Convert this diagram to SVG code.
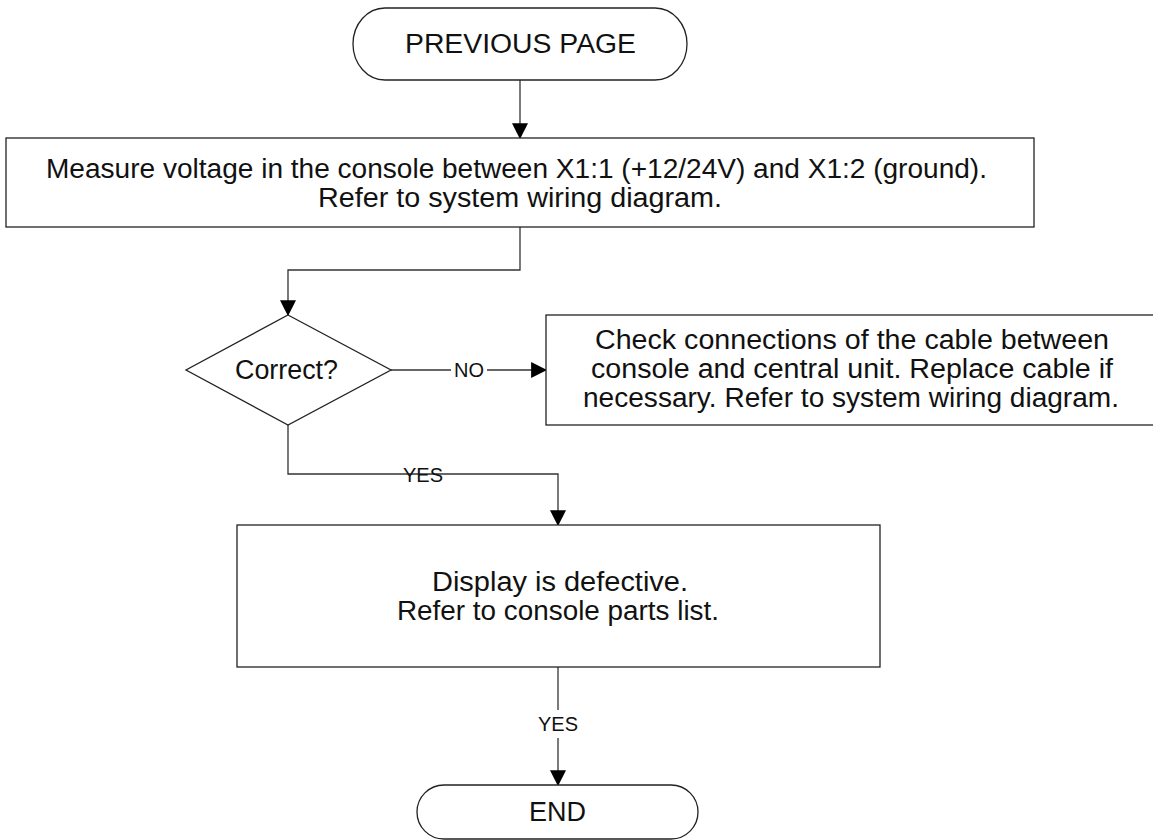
<svg xmlns="http://www.w3.org/2000/svg" width="1153" height="840" viewBox="0 0 1153 840">
<style>
.box{fill:#fff;stroke:#222;stroke-width:1.3}
.t{font-family:"Liberation Sans",Arial,sans-serif;font-size:27px;fill:#111;text-anchor:middle}
.l{font-family:"Liberation Sans",Arial,sans-serif;font-size:20px;fill:#111;text-anchor:middle}
.c{fill:none;stroke:#333;stroke-width:1.3}
</style>
<defs>
<marker id="ah" markerUnits="userSpaceOnUse" markerWidth="16" markerHeight="16" viewBox="0 0 14 14" refX="13" refY="7" orient="auto">
<path d="M0,0 L14,7 L0,14 Z" fill="#000"/>
</marker>
</defs>
<rect width="1153" height="840" fill="#fff"/>
<g id="connectors">
<path class="c" d="M520,80 V138" marker-end="url(#ah)"/>
<path class="c" d="M520,227 V270 H288 V315" marker-end="url(#ah)"/>
<path class="c" d="M391,370 H546" marker-end="url(#ah)"/>
<path class="c" d="M288,425 V474 H558 V525" marker-end="url(#ah)"/>
<path class="c" d="M558,667 V785" marker-end="url(#ah)"/>
<rect x="451" y="359" width="36" height="22" fill="#fff"/>
<text class="l" x="469" y="377">NO</text>
<text class="l" x="423" y="482">YES</text>
<rect x="534" y="710" width="48" height="28" fill="#fff"/>
<text class="l" x="558" y="731">YES</text>
</g>
<g id="start">
<path class="box" d="M385,8 H655 A32,36 0 0 1 655,80 H385 A32,36 0 0 1 385,8 Z"/>
<text class="t" x="520.5" y="53" textLength="231" lengthAdjust="spacingAndGlyphs">PREVIOUS PAGE</text>
</g>
<g id="measure">
<rect class="box" x="6" y="138" width="1028" height="89"/>
<text class="t" x="516.5" y="178" textLength="941" lengthAdjust="spacingAndGlyphs">Measure voltage in the console between X1:1 (+12/24V) and X1:2 (ground).</text>
<text class="t" x="520" y="207" textLength="404" lengthAdjust="spacingAndGlyphs">Refer to system wiring diagram.</text>
</g>
<g id="decision">
<path class="box" d="M288,315 L391,370 L288,425 L186,370 Z"/>
<text class="t" x="286.5" y="379" textLength="103" lengthAdjust="spacingAndGlyphs">Correct?</text>
</g>
<g id="check">
<rect class="box" x="546" y="315" width="612" height="110"/>
<text class="t" x="852" y="349" textLength="514" lengthAdjust="spacingAndGlyphs">Check connections of the cable between</text>
<text class="t" x="852" y="378" textLength="522" lengthAdjust="spacingAndGlyphs">console and central unit. Replace cable if</text>
<text class="t" x="851" y="407" textLength="536" lengthAdjust="spacingAndGlyphs">necessary. Refer to system wiring diagram.</text>
</g>
<g id="defective">
<rect class="box" x="237" y="525" width="643" height="142"/>
<text class="t" x="560" y="591" textLength="256" lengthAdjust="spacingAndGlyphs">Display is defective.</text>
<text class="t" x="558" y="620" textLength="322" lengthAdjust="spacingAndGlyphs">Refer to console parts list.</text>
</g>
<g id="end">
<path class="box" d="M444,785 H671 A27,27 0 0 1 671,839 H444 A27,27 0 0 1 444,785 Z"/>
<text class="t" x="557.5" y="821">END</text>
</g>
</svg>
